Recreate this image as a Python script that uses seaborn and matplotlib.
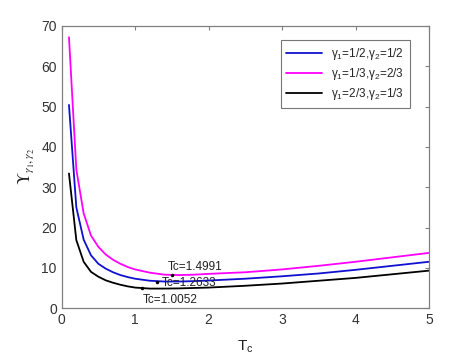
import pandas as pd
import matplotlib
matplotlib.use('Agg')
import matplotlib.pyplot as plt
import seaborn as sns

tc = [0.1, 0.2, 0.3, 0.4, 0.5, 0.6, 0.7, 0.8, 0.9, 1.0,
      1.2, 1.4, 1.6, 1.8, 2.0, 2.5, 3.0, 3.5, 4.0, 4.5, 5.0]
y_half_half = [50.4, 25.0, 17.0, 13.1, 11.0, 9.8, 8.9, 8.2, 7.7, 7.3,
               6.8, 6.6, 6.6, 6.7, 6.85, 7.3, 7.9, 8.6, 9.5, 10.5, 11.5]
y_third_twothird = [67.2, 34.4, 23.5, 18.0, 15.2, 13.3, 12.0, 11.0, 10.2, 9.6,
                    8.8, 8.3, 8.2, 8.3, 8.5, 8.9, 9.6, 10.5, 11.5, 12.6, 13.7]
y_twothird_third = [33.4, 16.9, 11.5, 9.0, 7.8, 6.9, 6.3, 5.8, 5.4, 5.1,
                    4.85, 4.85, 4.9, 5.0, 5.1, 5.55, 6.1, 6.8, 7.5, 8.4, 9.3]

labels = ['γ$_1$=1/2,γ$_2$=1/2',
          'γ$_1$=1/3,γ$_2$=2/3',
          'γ$_1$=2/3,γ$_2$=1/3']
colors = ['#1010d0', '#ff00ff', '#000000']

# optimum markers and their annotations
opt_x = [1.3, 1.5, 1.1]
opt_y = [6.6, 8.2, 4.9]
opt_text = ['Tc=1.2633', 'Tc=1.4991', 'Tc=1.0052']
text_x = [1.37, 1.45, 1.10]
text_y = [6.2, 10.2, 2.0]

rows = []
for lab, ys in zip(labels, [y_half_half, y_third_twothird, y_twothird_third]):
    for x, y in zip(tc, ys):
        rows.append({'Tc': x, 'Y': y, 'case': lab})
df = pd.DataFrame(rows)

sns.set_style('white')
plt.rcParams['font.family'] = ['Liberation Sans', 'DejaVu Sans']
plt.rcParams['mathtext.fontset'] = 'custom'
plt.rcParams['mathtext.rm'] = 'Liberation Sans'
plt.rcParams['mathtext.it'] = 'Liberation Sans:italic'

fig = plt.figure(figsize=(4.74, 3.55), dpi=100)
ax = fig.add_axes([0.130, 0.132, 0.775, 0.795])

sns.lineplot(data=df, x='Tc', y='Y', hue='case', palette=colors,
             sort=False, linewidth=1.3, ax=ax)

for x, y, t, tx, ty in zip(opt_x, opt_y, opt_text, text_x, text_y):
    ax.plot(x, y, '.', color='black', markersize=3)
    ax.text(tx, ty, t, fontsize=8.5, color='#222222', va='center', ha='left')

ax.set_xlim(0, 5)
ax.set_ylim(0, 70)
ax.set_xticks(range(0, 6))
ax.set_yticks(range(0, 71, 10))
ax.tick_params(direction='in', length=3, width=0.8, color='#808080',
               labelcolor='#333333', labelsize=10, top=True, right=True)
for s in ax.spines.values():
    s.set_color('#808080')
    s.set_linewidth(0.9)

ax.set_xlabel(r'T$_{\rm c}$', fontsize=11, color='#222222', labelpad=8)
ax.set_ylabel(r'$\Upsilon_{\gamma_1,\gamma_2}$', fontsize=12, color='#222222',
              labelpad=4, math_fontfamily='stix')

leg = ax.legend(loc='upper right', fontsize=8.5, frameon=True, fancybox=False,
                edgecolor='#555555', handlelength=3.0, borderpad=0.5,
                labelspacing=0.35, bbox_to_anchor=(0.965, 0.97))
leg.get_frame().set_linewidth(0.8)

fig.savefig('out.png', dpi=100)
